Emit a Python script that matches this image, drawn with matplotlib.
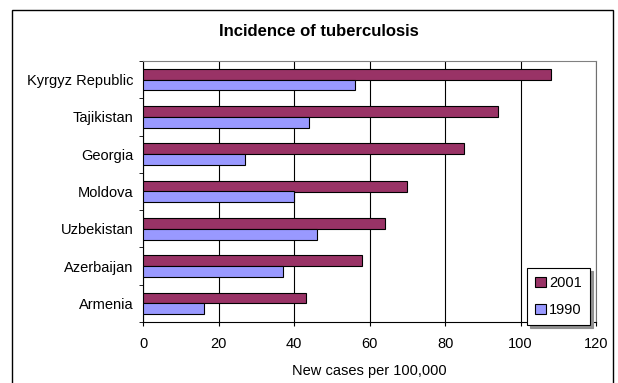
import matplotlib.pyplot as plt
import matplotlib.patches as patches
import numpy as np

plt.rcParams['font.family'] = ['Liberation Sans', 'DejaVu Sans']

countries = ["Kyrgyz Republic", "Tajikistan", "Georgia", "Moldova",
             "Uzbekistan", "Azerbaijan", "Armenia"]
cases_2001 = [108, 94, 85, 70, 64, 58, 43]
cases_1990 = [56, 44, 27, 40, 46, 37, 16]
xticks = [0, 20, 40, 60, 80, 100, 120]

fig = plt.figure(figsize=(6.18, 3.83), dpi=100)
ax = fig.add_axes([143.3 / 618, 1 - 322 / 383, 452.7 / 618, 261 / 383])

# outer chart border
fig.patches.append(patches.Rectangle((12 / 618, -0.05), 601 / 618, 0.05 + 1 - 9.5 / 383,
                                     transform=fig.transFigure, fill=False,
                                     edgecolor='black', linewidth=1.0))

y = np.arange(len(countries))[::-1]
h = 0.29
ax.barh(y + h / 2, cases_2001, height=h, color='#993366', edgecolor='black',
        linewidth=0.8, label='2001', zorder=3)
ax.barh(y - h / 2, cases_1990, height=h, color='#9999FF', edgecolor='black',
        linewidth=0.8, label='1990', zorder=3)

ax.set_xlim(0, 120)
ax.set_ylim(-0.5, len(countries) - 0.5)
ax.set_xticks(xticks)
ax.set_xticklabels([str(t) for t in xticks], fontsize=10.5)
ax.set_yticks(y)
ax.set_yticklabels(countries, fontsize=10.5)
ax.tick_params(axis='y', length=0, pad=7)
ax.set_yticks(np.arange(-0.5, len(countries), 1), minor=True)
ax.tick_params(axis='y', which='minor', length=3, direction='out')
ax.tick_params(axis='x', length=3, direction='out', pad=8)
ax.grid(axis='x', color='black', linewidth=0.8, zorder=0)
for s in ax.spines.values():
    s.set_linewidth(0.8)
    s.set_color('black')
ax.spines['right'].set_color('#707070')
ax.spines['top'].set_color('#808080')

ax.set_xlabel('New cases per 100,000', fontsize=10.5, labelpad=9)
fig.text(0.5165, 1 - 31 / 383, 'Incidence of tuberculosis', ha='center', va='center',
         fontsize=12, fontweight='bold')

leg = ax.legend(loc='lower right', bbox_to_anchor=(590 / 618, 58 / 383),
                bbox_transform=fig.transFigure, borderaxespad=0, fontsize=10.5,
                fancybox=False, framealpha=1, edgecolor='black', handlelength=0.7,
                handleheight=0.7, handletextpad=0.25, labelspacing=0.9, borderpad=0.55,
                shadow={'ox': 2, 'oy': -2, 'color': '#909090', 'alpha': 1})
leg.get_frame().set_linewidth(0.8)
leg.set_zorder(5)

fig.savefig('out.png', dpi=100)
